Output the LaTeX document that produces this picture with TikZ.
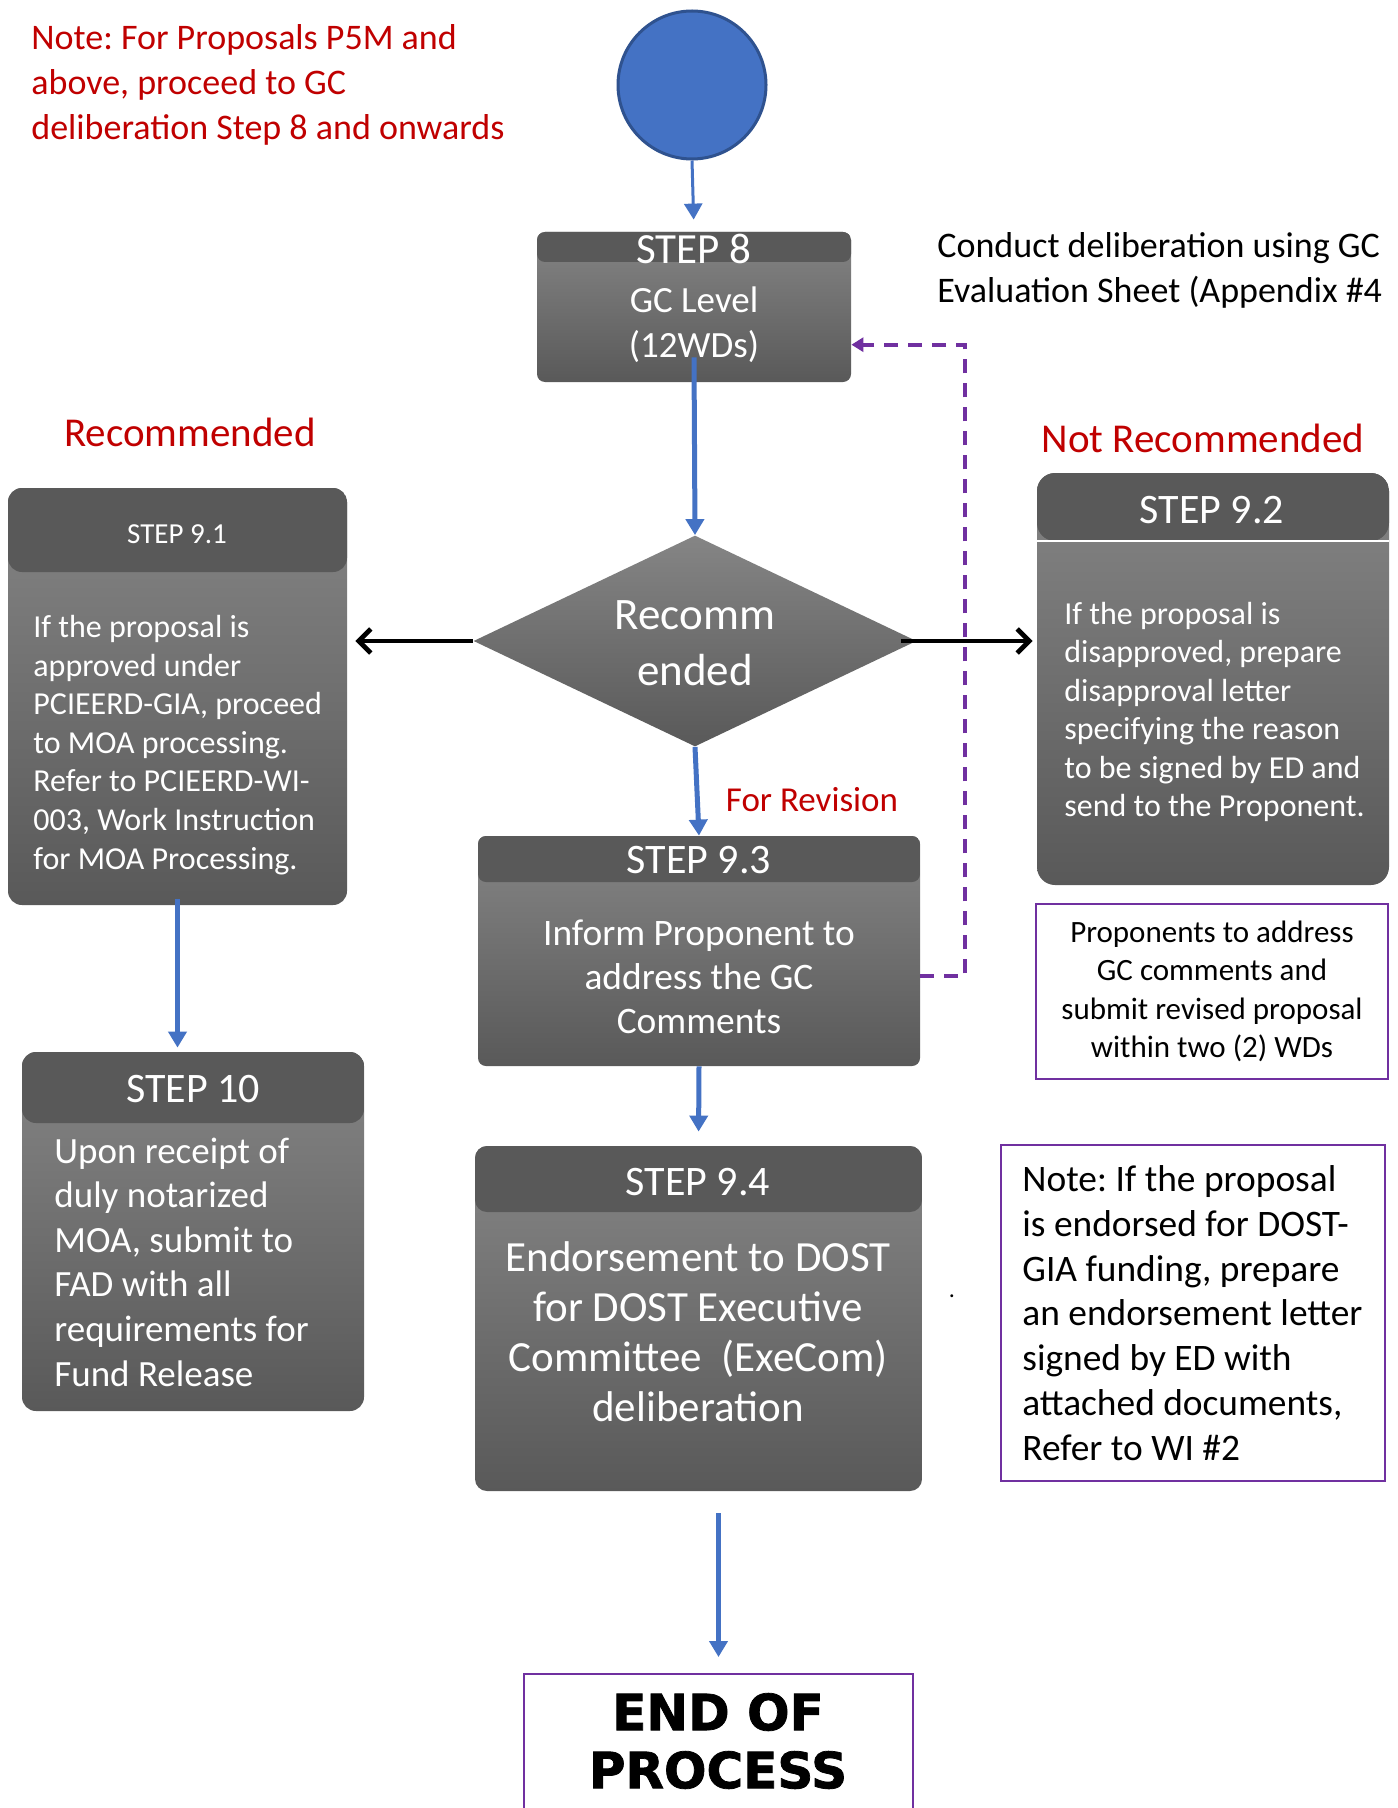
\documentclass[tikz,border=0pt]{standalone}
\usepackage{fontspec}
\setmainfont{Carlito}
\newfontfamily\heavyfont{DejaVu Sans}[BoldFeatures={FakeBold=1.5}]
\usetikzlibrary{arrows.meta, shapes.geometric, calc}
\definecolor{flowblue}{HTML}{4472C4}
\definecolor{circedge}{HTML}{2F528F}
\definecolor{notered}{HTML}{C00000}
\definecolor{loopviolet}{HTML}{7030A0}
\definecolor{boxtop}{HTML}{858585}
\definecolor{boxbot}{HTML}{595959}
\definecolor{boxhead}{HTML}{595959}
\newcommand{\fsz}[2]{\fontsize{#1}{#2}\selectfont}
\frenchspacing
\tikzset{>={Triangle[length=8pt,width=9pt]}}
\tikzset{
  stepbox/.style={rectangle, rounded corners=4pt, top color=boxtop, bottom color=boxbot, inner sep=0pt},
  stephead/.style={path picture={\fill[boxhead] (path picture bounding box.north west) rectangle ([yshift=-#1]path picture bounding box.north east);}},
  headtext/.style={text=white, inner sep=0pt},
  bodytext/.style={text=white, inner sep=0pt},
  flow/.style={flowblue, line width=2.5pt, ->},
  branch/.style={black, line width=2.4pt, -{Straight Barb[length=6pt,width=12pt]}},
  revise/.style={loopviolet, line width=2pt, dash pattern=on 7pt off 5pt, -{Triangle[length=6pt,width=7pt]}},
  notebox/.style={draw=loopviolet, line width=1pt, inner sep=0pt},
  rednote/.style={text=notered, inner sep=0pt}
}

\begin{document}
\begin{tikzpicture}[x=0.5pt, y=-0.5pt]
\path[clip, use as bounding box] (0,0) rectangle (1397,1808);
\fill[white] (0,0) rectangle (1397,1808);

\node[circle, fill=flowblue, draw=circedge, line width=1.5pt, minimum size=74pt, inner sep=0pt] (start) at (692,85) {};
\node[rednote, anchor=west, align=left, font=\fsz{18}{22.3}] (p5m) at (31,85) {Note: For Proposals P5M and\\above, proceed to GC\\deliberation Step 8 and onwards};

% step 8 and the decision
\node[stepbox, stephead=15pt, minimum width=157pt, minimum height=75pt] (s8) at (694,307) {};
\node[headtext, font=\fsz{21.5}{24}] (s8h) at (694,249) {STEP 8};
\node[bodytext, align=center, font=\fsz{18.5}{22.5}] (s8b) at (694,325) {GC Level\\(12WDs)};
\node[anchor=west, align=left, inner sep=0pt, font=\fsz{18}{22.5}] (gcnote) at (937,270) {Conduct deliberation using GC\\Evaluation Sheet (Appendix \#4};

\node[diamond, top color=boxtop, bottom color=boxbot, minimum width=221.5pt, minimum height=105.5pt, inner sep=0pt] (d) at (695,641) {};
\node[bodytext, align=center, font=\fsz{22.5}{28}] (dt) at (695,643) {Recomm\\ended};

\node[rednote, font=\fsz{20.5}{24}] (rec) at (190,432) {Recommended};
\node[rednote, font=\fsz{20.5}{24}] (notrec) at (1203,438) {Not Recommended};
\node[rednote, font=\fsz{17.5}{21}] (forrev) at (812,800) {For Revision};

% step 9.1
\node[stepbox, rounded corners=7pt, stephead=42pt, minimum width=169.5pt, minimum height=208.5pt] (s91) at (177.5,696.5) {};
\node[headtext, font=\fsz{14.5}{17}] (s91h) at (177,534) {STEP 9.1};
\node[bodytext, anchor=west, align=left, font=\fsz{16}{19.3}] (s91b) at (33,745) {If the proposal is\\approved under\\PCIEERD-GIA, proceed\\to MOA processing.\\Refer to PCIEERD-WI-\\003, Work Instruction\\for MOA Processing.};

% step 9.2
\node[stepbox, rounded corners=9pt, stephead=34pt, minimum width=176pt, minimum height=206pt] (s92) at (1213,679) {};
\draw[white, line width=1pt] ([yshift=-34pt]s92.north west) -- ([yshift=-34pt]s92.north east);
\node[headtext, font=\fsz{21}{23}] (s92h) at (1212,510) {STEP 9.2};
\node[bodytext, anchor=west, align=left, font=\fsz{16}{19.2}] (s92b) at (1064,712) {If the proposal is\\disapproved, prepare\\disapproval letter\\specifying the reason\\to be signed by ED and\\send to the Proponent.};

% step 9.3
\node[stepbox, stephead=23pt, minimum width=221pt, minimum height=115pt] (s93) at (699,951) {};
\node[headtext, font=\fsz{21}{23}] (s93h) at (699,860) {STEP 9.3};
\node[bodytext, align=center, font=\fsz{18.7}{22}] (s93b) at (699,977) {Inform Proponent to\\address the GC\\Comments};
\node[notebox, minimum width=176pt, minimum height=87.5pt, align=center, font=\fsz{15.5}{19.2}] (prop) at (1212,991.5) {Proponents to address\\GC comments and\\submit revised proposal\\within two (2) WDs};

% step 9.4
\node[stepbox, rounded corners=6pt, stephead=33pt, minimum width=223.5pt, minimum height=172.5pt] (s94) at (698.5,1318.5) {};
\node[headtext, font=\fsz{21}{23}] (s94h) at (698,1182) {STEP 9.4};
\node[bodytext, align=center, font=\fsz{21.5}{25}] (s94b) at (698,1332) {Endorsement to DOST\\for DOST Executive\\Committee~ (ExeCom)\\deliberation};
\node[inner sep=0pt, font=\fsz{12}{12}] (dot) at (952,1296) {.};
\node[notebox, minimum width=192pt, minimum height=168pt] (endnote) at (1193,1313) {};
\node[anchor=west, align=left, inner sep=0pt, font=\fsz{18.7}{22.4}] (endnotet) at (1022,1313) {Note: If the proposal\\is endorsed for DOST-\\GIA funding, prepare\\an endorsement letter\\signed by ED with\\attached documents,\\Refer to WI \#2};

% step 10
\node[stepbox, rounded corners=7pt, stephead=35.5pt, minimum width=171pt, minimum height=179.5pt] (s10) at (193,1231.5) {};
\node[headtext, font=\fsz{21}{23}] (s10h) at (193,1089) {STEP 10};
\node[bodytext, anchor=west, align=left, font=\fsz{18.5}{22.3}] (s10b) at (54,1262) {Upon receipt of\\duly notarized\\MOA, submit to\\FAD with all\\requirements for\\Fund Release};

\node[notebox, minimum width=194.5pt, minimum height=100pt, anchor=north] (endp) at (718.5,1673) {};
\node[inner sep=0pt, align=center, font=\heavyfont\bfseries\fsz{25}{29}] (endt) at (718,1741) {END OF\\PROCESS};

% connectors
\draw[flow, line width=1.5pt, shorten >=6pt] (start.south) -- (s8.north);
\draw[flow] ([yshift=12.5pt]s8.south) -- (d.north);
\draw[flow] (d.south) -- (s93.north);
\draw[flow, shorten >=7pt] (s93.south) -- (s94.north);
\draw[flow, shorten >=2pt] ([yshift=3pt]s91.south) -- (s91.south |- s10.north);
\draw[flow, shorten <=11pt, shorten >=8pt] (endp.north |- s94.south) -- (endp.north);
\draw[branch, shorten >=4pt] (d.west) -- (d.west -| s91.east);
\draw[branch, shorten <=-8pt, shorten >=2pt] (d.east) -- (d.east -| s92.west);
\draw[revise] ($(s93.south east)!0.39!(s93.north east)$) -- ++(45,0) |- ($(s8.south east)!0.25!(s8.north east)$);
\end{tikzpicture}
\end{document}
